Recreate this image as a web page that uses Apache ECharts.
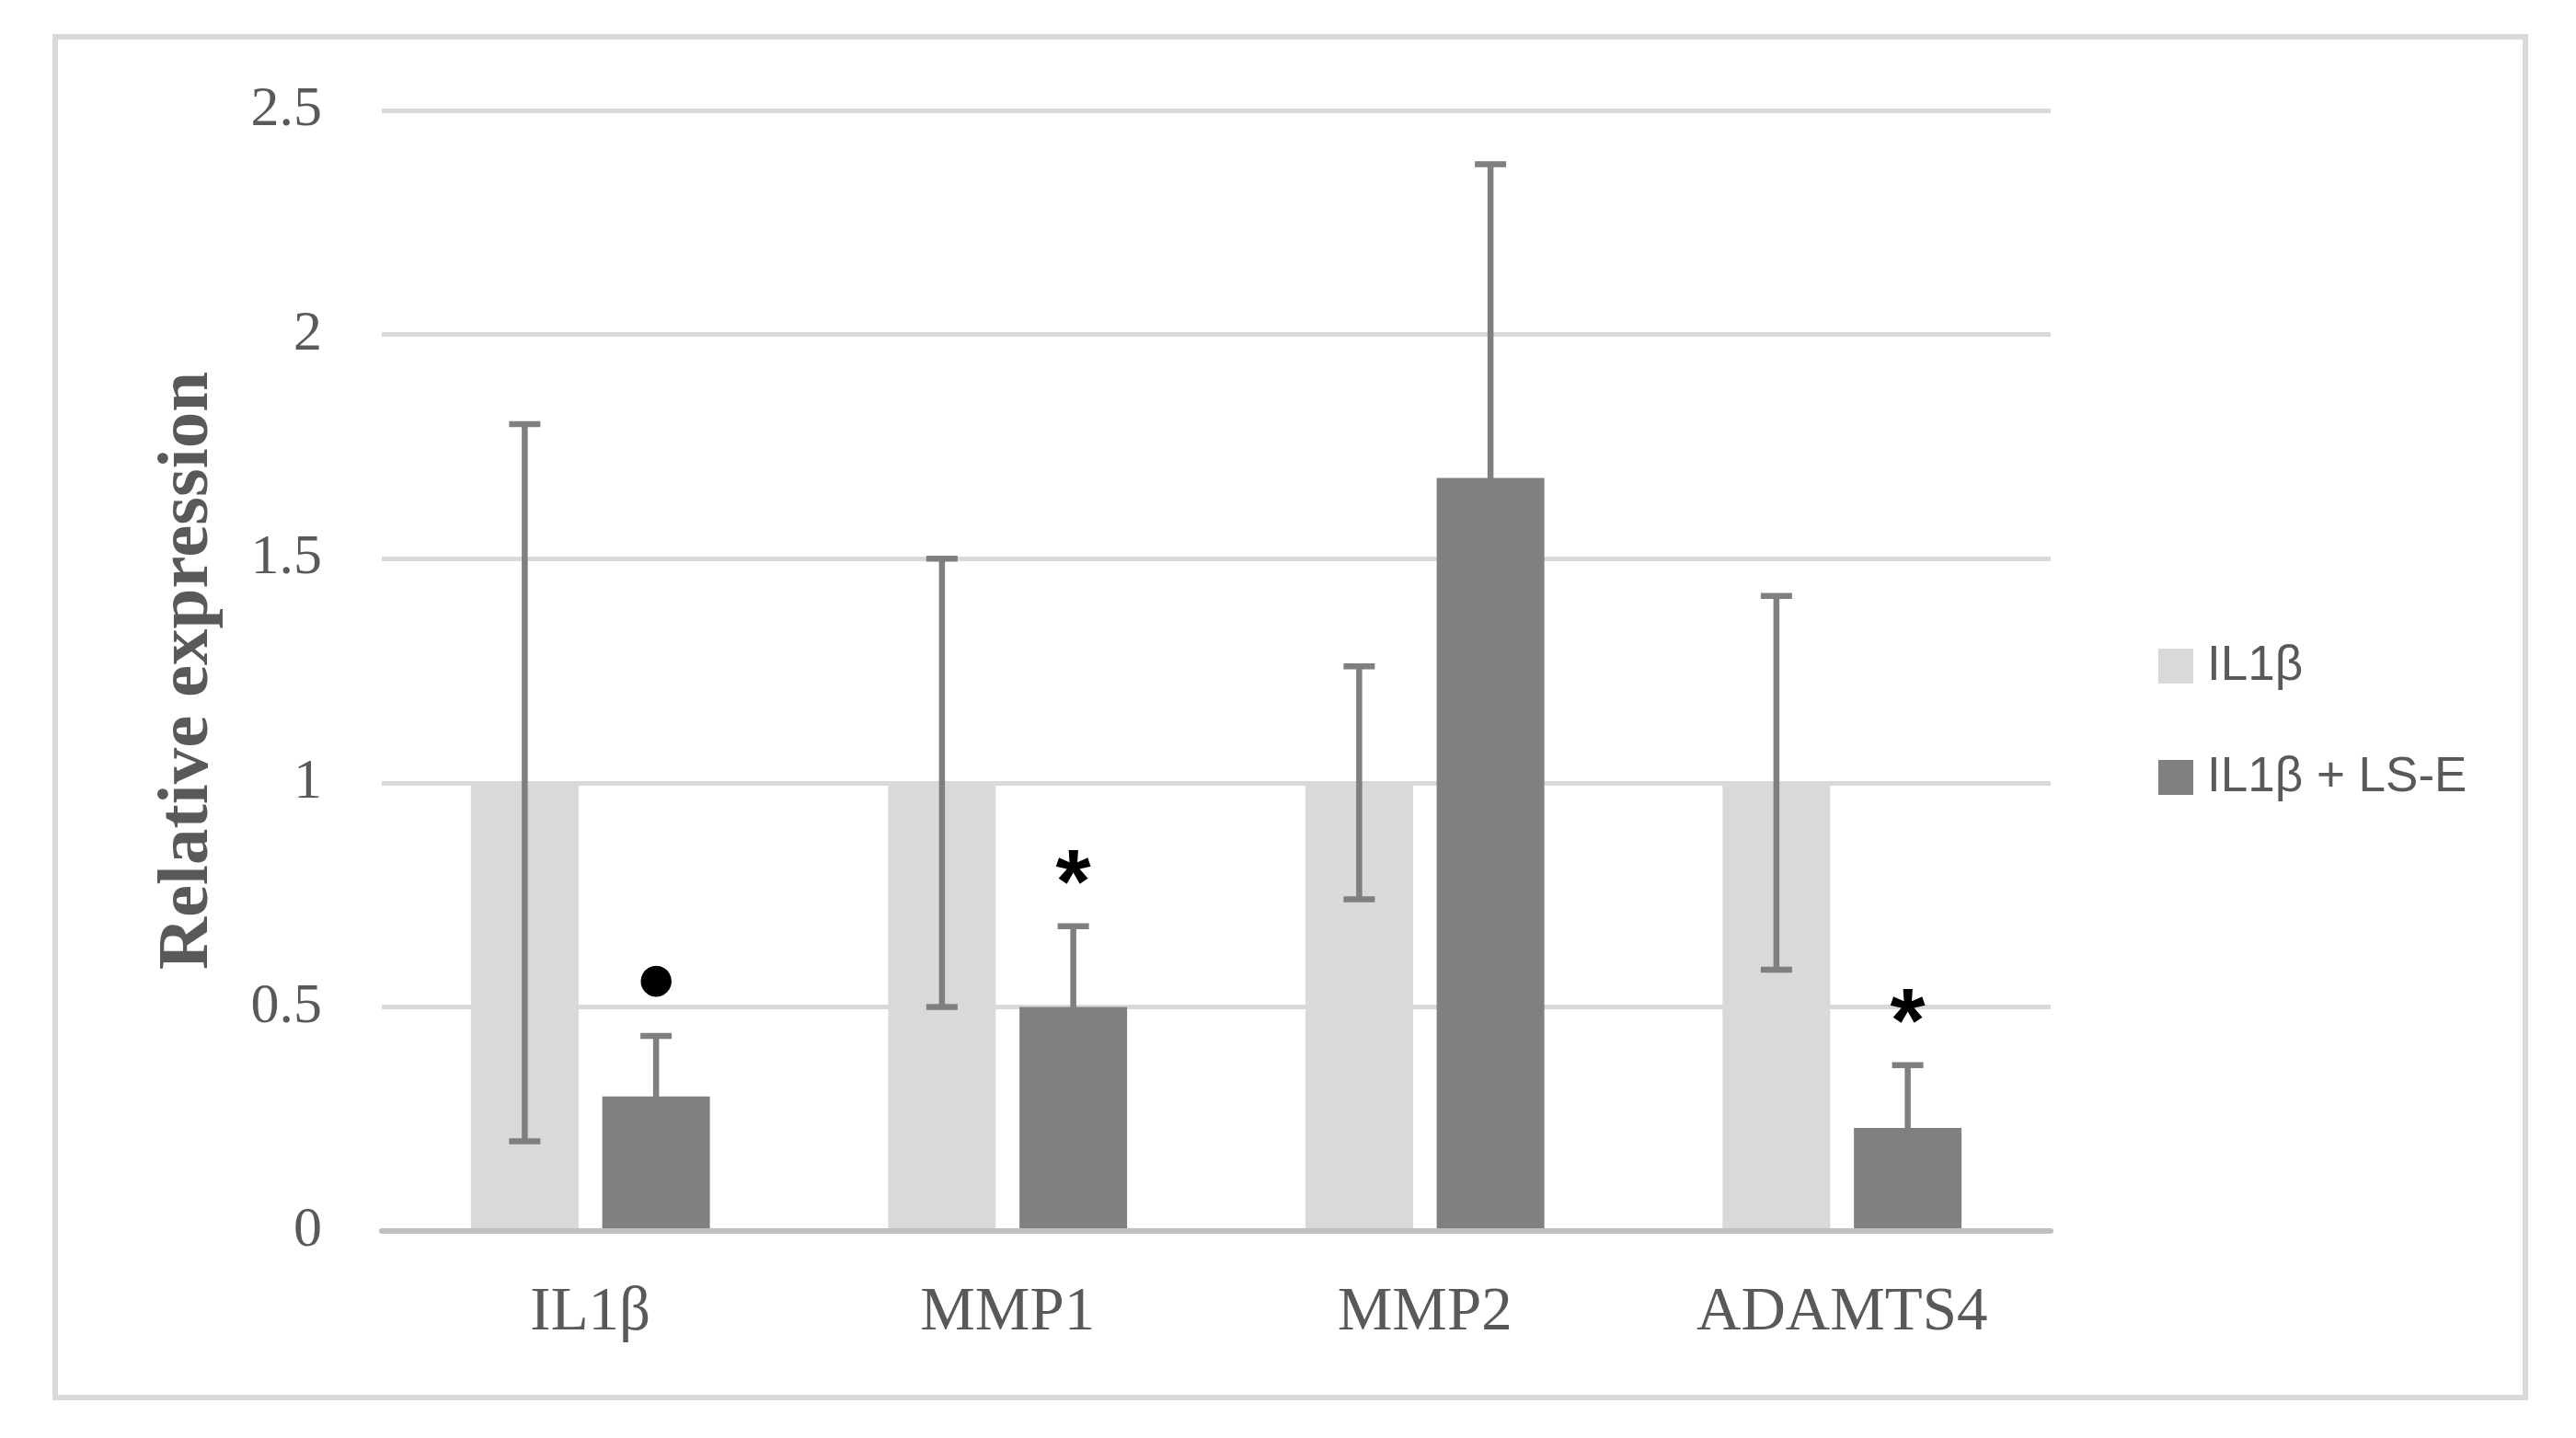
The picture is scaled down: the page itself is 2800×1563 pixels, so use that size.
<!DOCTYPE html>
<html><head><meta charset="utf-8">
<script src="https://cdn.jsdelivr.net/npm/echarts@6/dist/echarts.min.js"></script>
<style>html,body{margin:0;padding:0;background:#fff;} #chart{width:2800px;height:1563px;}</style>
</head><body><div id="chart"></div>
<script>
// ---- data ----
const categories = ['IL1β', 'MMP1', 'MMP2', 'ADAMTS4'];
const seriesNames = ['IL1β', 'IL1β + LS-E'];
const controlValues = [1, 1, 1, 1];
const controlErrors = [0.80, 0.50, 0.26, 0.417];
const treatedValues = [0.30, 0.50, 1.68, 0.23];
const treatedErrors = [0.135, 0.18, 0.70, 0.14];
const significance = ['●', '*', '', '*'];
const yAxisMin = 0, yAxisMax = 2.5, yAxisStep = 0.5;
const yAxisTitle = 'Relative expression';

// ---- styling ----
const SERIF = "'Liberation Serif', 'Times New Roman', serif";
const SANS = "'Liberation Sans', Arial, sans-serif";
const BAR_W = 0.258;   // fraction of category band
const BAR_GAP = 0.22;  // fraction of bar width
const ERR_COLOR = '#7f7f7f';

function makeErrorRenderer(side, errors, marks) {
  return function (params, api) {
    const cat = api.value(0);
    const mean = api.value(1);
    const err = api.value(2);
    const band = api.size([1, 0])[0];
    const bw = band * BAR_W;
    const off = (bw + bw * BAR_GAP) / 2;
    const c = api.coord([cat, mean]);
    const x = c[0] + side * off;
    const yTop = api.coord([cat, mean + err])[1];
    const yBot = api.coord([cat, mean - err])[1];
    const half = 17;
    const st = { stroke: ERR_COLOR, lineWidth: 6.5 };
    const children = [
      { type: 'line', shape: { x1: x, y1: yTop, x2: x, y2: yBot }, style: st },
      { type: 'line', shape: { x1: x - half, y1: yTop, x2: x + half, y2: yTop }, style: st },
      { type: 'line', shape: { x1: x - half, y1: yBot, x2: x + half, y2: yBot }, style: st }
    ];
    const m = marks ? marks[params.dataIndex] : '';
    if (m) {
      const isDot = m === '●';
      children.push({
        type: 'text',
        style: {
          text: m,
          x: x,
          y: yTop - (isDot ? 60 : 42),
          align: 'center',
          verticalAlign: 'middle',
          fill: '#000',
          font: isDot ? "44px 'DejaVu Sans'" : "bold 98px 'Liberation Sans'"
        }
      });
    }
    return { type: 'group', children: children };
  };
}

const controlErrData = categories.map((c, i) => [i, controlValues[i], controlErrors[i]]);
const treatedErrData = categories.map((c, i) => [i, treatedValues[i], treatedErrors[i]]);

const chart = echarts.init(document.getElementById('chart'), null, { renderer: 'canvas' });
chart.setOption({
  animation: false,
  backgroundColor: '#ffffff',
  textStyle: { fontFamily: SERIF },
  graphic: [{
    type: 'rect',
    shape: { x: 60, y: 40, width: 2685, height: 1479 },
    style: { fill: 'none', stroke: '#d9d9d9', lineWidth: 6 },
    z: -1
  }],
  grid: { left: 415, right: 571, top: 120, bottom: 225, containLabel: false, outerBoundsMode: 'none' },
  legend: {
    orient: 'vertical',
    left: 2341,
    top: 690,
    itemWidth: 38,
    itemHeight: 38,
    itemGap: 63,
    icon: 'rect',
    data: seriesNames,
    textStyle: { fontFamily: SANS, fontSize: 53, color: '#595959', lineHeight: 58, padding: [0, 0, 0, 10] }
  },
  xAxis: {
    type: 'category',
    data: categories,
    z: 3,
    axisTick: { show: false },
    axisLine: { lineStyle: { color: '#bfbfbf', width: 6 } },
    axisLabel: { fontFamily: SERIF, fontSize: 67, color: '#595959', margin: 56 },
    splitLine: { show: false }
  },
  yAxis: {
    type: 'value',
    min: yAxisMin,
    max: yAxisMax,
    interval: yAxisStep,
    name: yAxisTitle,
    nameLocation: 'middle',
    nameRotate: 90,
    nameGap: 171,
    nameTextStyle: { fontFamily: SERIF, fontSize: 79, fontWeight: 'bold', color: '#595959' },
    axisLine: { show: false },
    axisTick: { show: false },
    axisLabel: { fontFamily: SERIF, fontSize: 62, color: '#595959', margin: 65 },
    splitLine: { lineStyle: { color: '#d9d9d9', width: 5 } }
  },
  series: [
    {
      name: seriesNames[0], type: 'bar', data: controlValues,
      barWidth: (BAR_W * 100) + '%', barGap: (BAR_GAP * 100) + '%',
      itemStyle: { color: '#d9d9d9' }, z: 2
    },
    {
      name: seriesNames[1], type: 'bar', data: treatedValues,
      barWidth: (BAR_W * 100) + '%', barGap: (BAR_GAP * 100) + '%',
      itemStyle: { color: '#808080' }, z: 2
    },
    {
      type: 'custom', name: 'err0', data: controlErrData, z: 4,
      renderItem: makeErrorRenderer(-1, controlErrors, null),
      encode: { x: 0, y: 1 }, silent: true
    },
    {
      type: 'custom', name: 'err1', data: treatedErrData, z: 4,
      renderItem: makeErrorRenderer(1, treatedErrors, significance),
      encode: { x: 0, y: 1 }, silent: true
    }
  ]
});
</script>
</body></html>
